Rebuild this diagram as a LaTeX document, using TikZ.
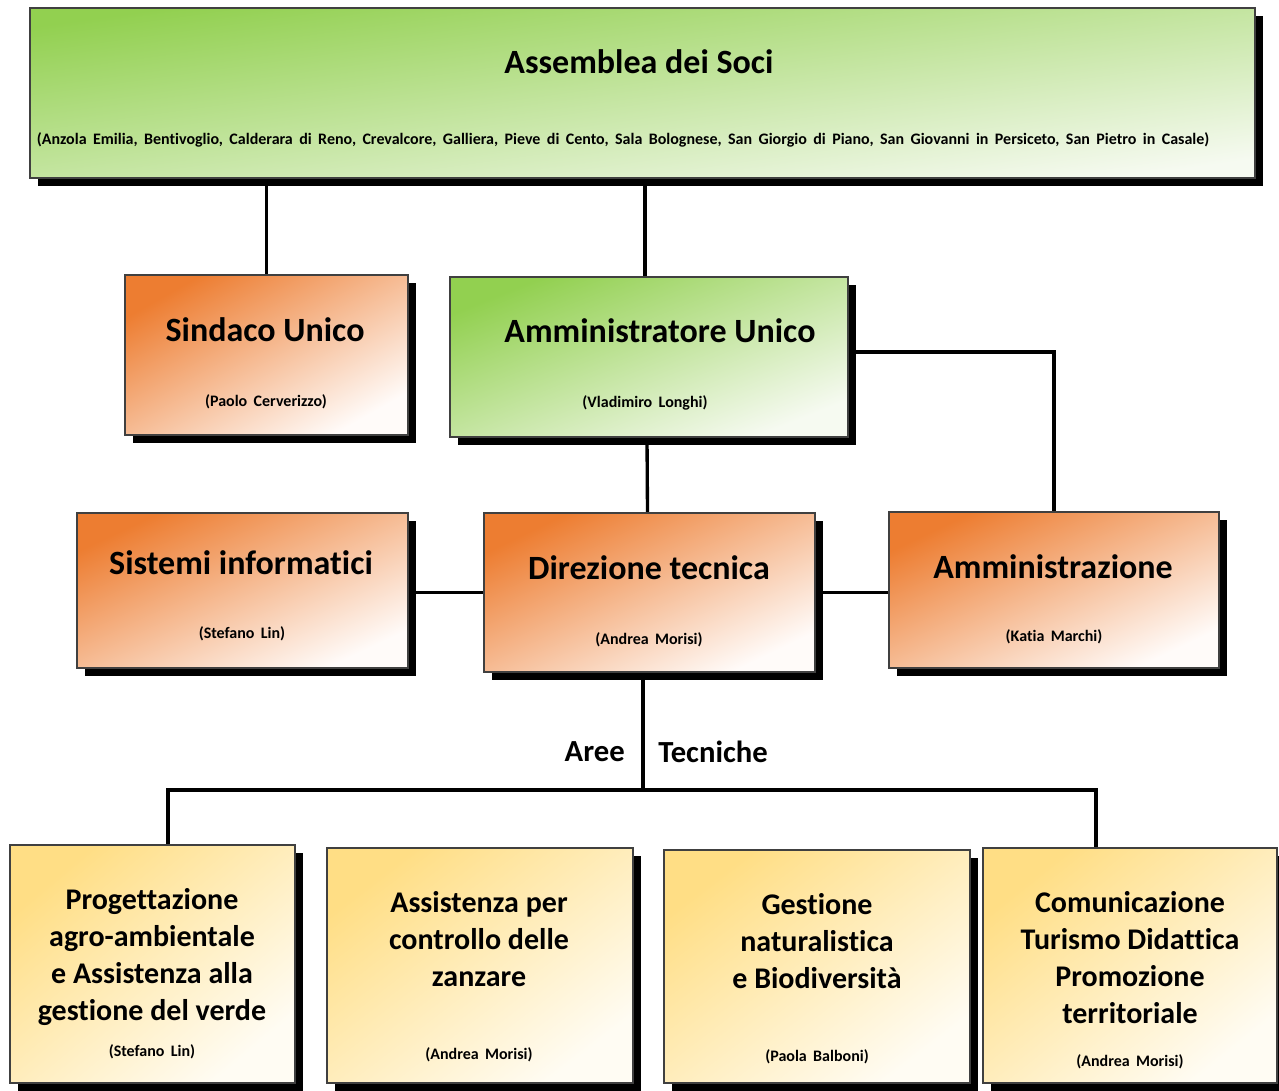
\documentclass[tikz,border=0pt]{standalone}
\usepackage{fontspec}
\setmainfont{Carlito}[Ligatures={NoCommon}]
\usetikzlibrary{shadows,fit,calc,backgrounds}
\definecolor{grn}{HTML}{92D050}
\definecolor{grnL}{HTML}{F6FAF1}
\definecolor{org}{HTML}{ED7D31}
\definecolor{orgL}{HTML}{FFFBF9}
\definecolor{ylw}{HTML}{FFDE85}
\definecolor{ylwL}{HTML}{FFFCF3}
\definecolor{edge}{HTML}{404040}
\newcommand{\widesp}{\spaceskip=0.4em\relax}
\begin{document}
\begin{tikzpicture}[x=0.75pt,y=-0.75pt,
  boxbase/.style={draw=edge, line width=0.8pt, inner sep=0pt,
    drop shadow={shadow xshift=6pt, shadow yshift=-6pt, fill=black, opacity=1}},
  gbox/.style={boxbase, top color=grn, bottom color=grnL, shading angle=#1},
  obox/.style={boxbase, top color=org, bottom color=orgL, shading angle=#1},
  ybox/.style={boxbase, top color=ylw, bottom color=ylwL, shading angle=#1},
  ttl/.style={font=\fontsize{25.5}{30}\selectfont\bfseries, inner sep=0pt},
  sub/.style={font=\fontsize{12}{14}\selectfont\bfseries, inner sep=0pt},
  btxt/.style={font=\fontsize{22.5}{27.75}\selectfont\bfseries, align=center, inner sep=0pt},
  lbl/.style={font=\fontsize{23}{27}\selectfont\bfseries, inner sep=0pt},
  conn/.style={line width=2.5pt, black}]
\useasboundingbox (0,0) rectangle (1279,1091);

% boxes
\node[gbox=7.9, fit={(30,8) (1255,178)}] (asm) {};
\node[obox=29.5, fit={(125,275) (408,435)}] (sind) {};
\node[gbox=21.9, fit={(450,277) (848,437)}] (amm) {};
\node[obox=25.1, fit={(77,513) (408,668)}] (sis) {};
\node[obox=25.7, fit={(484,513) (815,672)}] (dir) {};
\node[obox=25.3, fit={(889,512) (1219,668)}] (adm) {};
\node[ybox=39.9, fit={(10,845) (295,1083)}] (b1) {};
\node[ybox=37.5, fit={(327,848) (633,1083)}] (b2) {};
\node[ybox=37.3, fit={(664,850) (970,1083)}] (b3) {};
\node[ybox=38.6, fit={(983,848) (1277,1083)}] (b4) {};

% texts
\node[ttl] (asmT) at (639,62) {Assemblea dei Soci};
\node[sub] (asmS) at (623,140) {\widesp (Anzola Emilia, Bentivoglio, Calderara di Reno, Crevalcore, Galliera, Pieve di Cento, Sala Bolognese, San Giorgio di Piano, San Giovanni in Persiceto, San Pietro in Casale)};
\node[ttl] (sindT) at (265,330) {Sindaco Unico};
\node[sub] (sindS) at (266,402) {\widesp (Paolo Cerverizzo)};
\node[ttl] (ammT) at (660,331) {Amministratore Unico};
\node[sub] (ammS) at (645,403) {\widesp (Vladimiro Longhi)};
\node[ttl] (sisT) at (241,563) {Sistemi informatici};
\node[sub] (sisS) at (242,634) {\widesp (Stefano Lin)};
\node[ttl] (dirT) at (649,568) {Direzione tecnica};
\node[sub] (dirS) at (649,640) {\widesp (Andrea Morisi)};
\node[ttl] (admT) at (1053,567) {Amministrazione};
\node[sub] (admS) at (1054,637) {\widesp (Katia Marchi)};
\node[btxt] (b1T) at (152,957) {Progettazione\\agro-ambientale\\e Assistenza alla\\gestione del verde};
\node[sub] (b1S) at (152,1052) {\widesp (Stefano Lin)};
\node[btxt] (b2T) at (479,939) {Assistenza per\\controllo delle\\zanzare};
\node[sub] (b2S) at (479,1055) {\widesp (Andrea Morisi)};
\node[btxt] (b3T) at (817,941) {Gestione\\naturalistica\\e Biodiversità};
\node[sub] (b3S) at (817,1057) {\widesp (Paola Balboni)};
\node[btxt] (b4T) at (1130,958) {Comunicazione\\Turismo Didattica\\Promozione\\territoriale};
\node[sub] (b4S) at (1130,1062) {\widesp (Andrea Morisi)};
\node[lbl, anchor=east] (aree) at (625,752) {Aree};
\node[lbl, anchor=west] (tecn) at (658,752) {Tecniche};

\coordinate (bus) at (643,790);

\begin{pgfonlayer}{background}
\fill[white] (0,0) rectangle (1279,1091);
\draw[conn] (asm.south -| sind.north) -- (sind.north);
\draw[conn] ($(asm.south -| amm.north)+(-4,0)$) -- ($(amm.north)+(-4,0)$);
\draw[conn] ($(amm.east)+(0,-5)$) -| (adm.north);
\draw[conn] ($(amm.south)+(-2,0)$) -- ($(dir.north)+(-2,0)$);
\draw[conn] (dir.west) -- (dir.west -| sis.east);
\draw[conn] (dir.east) -- (dir.east -| adm.west);
\draw[conn] (dir.south -| bus) -- (bus);
\draw[conn] ($(b1.north)+(15.5,0)$) |- (bus) -| ($(b4.north)+(-34,0)$);
\draw[conn] ($(b2.north)+(5,0)$) -- ($(b2.north)+(5,0)$ |- bus);
\draw[conn] ($(b3.north)+(-27,0)$) -- ($(b3.north)+(-27,0)$ |- bus);
\end{pgfonlayer}
\end{tikzpicture}
\end{document}
